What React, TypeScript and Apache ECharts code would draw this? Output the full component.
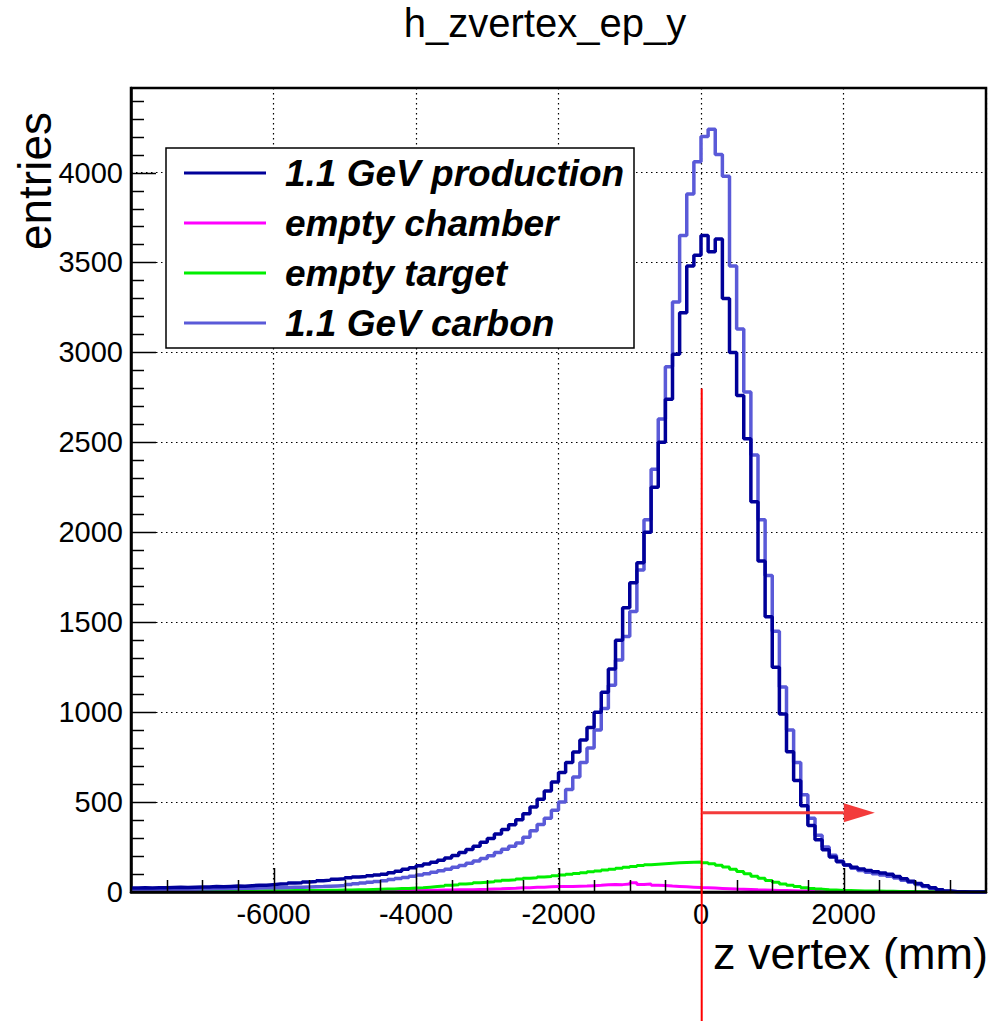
import React, { useEffect, useRef } from "react";
import * as echarts from "echarts";

// ---- axis ranges ----
const X_MIN = -8000;
const X_MAX = 4000;
const X_INTERVAL = 2000;
const X_MINOR_STEP = 500;
const Y_MIN = 0;
const Y_MAX = 4470;
const Y_INTERVAL = 500;
const Y_MINOR_STEP = 100;
const BIN_WIDTH = 100;

// ---- titles ----
const TITLE = "h_zvertex_ep_y";
const X_TITLE = "z vertex (mm)";
const Y_TITLE = "entries";

// ---- legend names ----
const NAMES = ["1.1 GeV production", "empty chamber", "empty target", "1.1 GeV carbon"];
const COLORS = ["#000099", "#ff00ff", "#00ee00", "#5a5ad8"];
const WIDTHS = [3.5, 3, 3, 3.5];

// ---- histogram contents, bins of 100 mm starting at -8000 mm ----
const PRODUCTION = [
  22, 23, 22, 24, 23, 25, 26, 25, 27, 28,
  28, 30, 29, 31, 33, 32, 35, 37, 38, 41,
  44, 46, 50, 52, 56, 59, 63, 66, 71, 74,
  79, 83, 86, 90, 94, 99, 107, 116, 126, 135,
  146, 155, 165, 176, 189, 203, 219, 236, 255, 276,
  298, 322, 347, 374, 402, 435, 472, 515, 562, 612,
  665, 720, 778, 845, 915, 1000, 1110, 1240, 1400, 1580,
  1720, 1830, 2000, 2250, 2500, 2740, 2990, 3220, 3480, 3540,
  3650, 3560, 3630, 3300, 3000, 2760, 2520, 2170, 1840, 1530,
  1250, 990, 780, 620, 480, 370, 290, 235, 195, 168,
  150, 138, 128, 120, 112, 106, 98, 86, 74, 60,
  47, 35, 24, 13, 5, 2, 1, 0, 0, 0,
];

const CHAMBER = [
  3, 3, 3, 3, 3, 3, 3, 3, 3, 3,
  3, 3, 4, 3, 4, 4, 4, 4, 4, 4,
  4, 5, 4, 5, 5, 5, 5, 6, 6, 6,
  6, 6, 7, 7, 7, 7, 8, 8, 9, 9,
  9, 10, 10, 11, 11, 12, 13, 13, 14, 15,
  17, 18, 20, 21, 23, 24, 26, 27, 29, 30,
  31, 31, 32, 33, 35, 37, 40, 42, 41, 44,
  52, 42, 45, 38, 36, 33, 31, 29, 27, 25,
  24, 22, 20, 18, 16, 15, 14, 12, 11, 10,
  9, 8, 7, 6, 6, 5, 5, 4, 4, 4,
  3, 3, 3, 3, 2, 2, 2, 2, 2, 2,
  2, 2, 1, 1, 1, 1, 1, 1, 1, 1,
];

const TARGET = [
  3, 3, 3, 3, 4, 4, 4, 4, 4, 5,
  5, 5, 5, 5, 6, 6, 6, 6, 7, 7,
  7, 7, 8, 8, 8, 9, 9, 10, 10, 11,
  11, 12, 13, 14, 15, 16, 17, 19, 20, 22,
  24, 27, 30, 33, 37, 40, 44, 47, 51, 54,
  57, 61, 65, 68, 72, 76, 79, 83, 86, 90,
  94, 98, 103, 107, 112, 117, 122, 127, 132, 137,
  142, 147, 151, 154, 157, 160, 162, 164, 166, 167,
  163, 157, 149, 139, 127, 114, 101, 88, 76, 64,
  54, 45, 37, 30, 24, 20, 16, 13, 11, 9,
  8, 7, 6, 5, 5, 4, 4, 3, 3, 3,
  2, 2, 2, 2, 1, 1, 1, 1, 1, 1,
];

const CARBON = [
  13, 12, 14, 13, 15, 14, 15, 16, 15, 17,
  17, 18, 18, 19, 20, 21, 21, 22, 23, 24,
  24, 25, 26, 27, 28, 29, 30, 32, 34, 36,
  42, 46, 50, 54, 58, 63, 69, 75, 81, 88,
  95, 102, 110, 118, 127, 137, 148, 160, 172, 186,
  202, 220, 238, 255, 272, 305, 340, 375, 410, 455,
  500, 570, 640, 720, 800, 900, 1020, 1150, 1290, 1420,
  1560, 1790, 2070, 2350, 2630, 2920, 3280, 3650, 3880, 4060,
  4200, 4240, 4100, 3980, 3480, 3130, 2780, 2430, 2070, 1760,
  1450, 1140, 900, 720, 540, 410, 315, 250, 205, 172,
  150, 132, 120, 110, 102, 95, 88, 78, 66, 54,
  42, 31, 21, 11, 4, 2, 1, 0, 0, 0,
];

// ---- red annotation (data units) ----
const CUT_X = 10;
const CUT_LINE_TOP = 2800;
const ARROW_Y = 440;
const ARROW_HEAD_BASE_X = 2004;
const ARROW_TIP_X = 2440;

const FONT = "'Liberation Sans', Arial, Helvetica, sans-serif";

function toHist(values: number[]): number[][] {
  const pts = values.map((v, i) => [X_MIN + i * BIN_WIDTH, v]);
  pts.push([X_MIN + values.length * BIN_WIDTH, values[values.length - 1]]);
  return pts;
}

const plain = (v: number) => String(v);

export default function App() {
  const ref = useRef<HTMLDivElement>(null);

  useEffect(() => {
    document.body.style.margin = "0";
    if (!ref.current) return;
    const chart = echarts.init(ref.current, undefined, { renderer: "svg" });
    const allData = [PRODUCTION, CHAMBER, TARGET, CARBON];
    const zs = [6, 4, 4, 5];

    const option: any = {
      animation: false,
      backgroundColor: "#ffffff",
      grid: {
        left: 131,
        right: 20,
        top: 88,
        bottom: 129,
        show: false,
        containLabel: false,
      },
      xAxis: {
        type: "value",
        min: X_MIN,
        max: X_MAX,
        interval: X_INTERVAL,
        axisLine: { show: true, onZero: false, lineStyle: { color: "#000", width: 2.5 } },
        axisTick: { show: false },
        minorTick: { show: false },
        axisLabel: {
          showMinLabel: false,
          showMaxLabel: false,
          formatter: plain,
          fontSize: 29,
          fontFamily: FONT,
          color: "#000",
          margin: 7,
        },
        splitLine: { show: true, lineStyle: { color: "#000", width: 1.2, type: [1.5, 3.5] } },
      },
      yAxis: {
        type: "value",
        min: Y_MIN,
        max: Y_MAX,
        interval: Y_INTERVAL,
        axisLine: { show: true, onZero: false, lineStyle: { color: "#000", width: 2.5 } },
        axisTick: { show: false },
        minorTick: { show: false },
        axisLabel: {
          showMaxLabel: false,
          formatter: plain,
          fontSize: 29,
          fontFamily: FONT,
          color: "#000",
          margin: 8,
        },
        splitLine: { show: true, lineStyle: { color: "#000", width: 1.2, type: [1.5, 3.5] } },
      },
      legend: {
        orient: "vertical",
        left: 184,
        top: 148,
        padding: 0,
        itemGap: 0,
        itemWidth: 82,
        itemHeight: 3,
        icon: "rect",
        selectedMode: false,
        data: NAMES,
        z: 10,
        textStyle: {
          fontSize: 37,
          fontWeight: "bold",
          fontStyle: "italic",
          fontFamily: FONT,
          color: "#000",
          lineHeight: 50,
          padding: [0, 0, 0, 14],
        },
      },
      series: NAMES.map((name, k) => ({
        name,
        type: "line",
        step: "end",
        data: toHist(allData[k]),
        symbol: "none",
        showSymbol: false,
        silent: true,
        clip: true,
        z: zs[k],
        itemStyle: { color: COLORS[k] },
        lineStyle: { color: COLORS[k], width: WIDTHS[k] },
      })),
    };
    chart.setOption(option);

    const px = (x: number, y: number) => chart.convertToPixel({ gridIndex: 0 }, [x, y]) as number[];
    const p0 = px(CUT_X, CUT_LINE_TOP);
    const a0 = px(CUT_X, ARROW_Y);
    const aBase = px(ARROW_HEAD_BASE_X, ARROW_Y);
    const aTip = px(ARROW_TIP_X, ARROW_Y);
    const bl = px(X_MIN, Y_MIN);
    const tr = px(X_MAX, Y_MAX);
    const H = chart.getHeight();

    // axis ticks drawn inside the frame, ROOT style
    const ticks: any[] = [];
    for (let v = X_MIN + X_MINOR_STEP; v < X_MAX; v += X_MINOR_STEP) {
      const p = px(v, Y_MIN);
      const major = (v - X_MIN) % X_INTERVAL === 0;
      const x = Math.round(p[0]) + 0.5;
      ticks.push({
        type: "line",
        id: "xtick" + v,
        z: 40,
        silent: true,
        shape: { x1: x, y1: bl[1], x2: x, y2: bl[1] - (major ? 24 : 12) },
        style: { stroke: "#000", lineWidth: 1.5 },
      });
    }
    for (let v = Y_MIN + Y_MINOR_STEP; v < Y_MAX; v += Y_MINOR_STEP) {
      const p = px(X_MIN, v);
      const major = (v - Y_MIN) % Y_INTERVAL === 0;
      const y = Math.round(p[1]) + 0.5;
      ticks.push({
        type: "line",
        id: "ytick" + v,
        z: 40,
        silent: true,
        shape: { x1: bl[0], y1: y, x2: bl[0] + (major ? 25 : 13), y2: y },
        style: { stroke: "#000", lineWidth: 1.5 },
      });
    }

    chart.setOption({
      graphic: [
        {
          type: "rect",
          id: "frame",
          z: 50,
          silent: true,
          shape: { x: bl[0], y: tr[1], width: tr[0] - bl[0], height: bl[1] - tr[1] },
          style: { fill: "none", stroke: "#000", lineWidth: 2.5 },
        },
        ...ticks,
        {
          type: "rect",
          id: "legendBox",
          z: 3,
          shape: { x: 166, y: 148, width: 468, height: 200 },
          style: { fill: "#fff", stroke: "#000", lineWidth: 1.5 },
        },
        {
          type: "text",
          id: "title",
          x: 545,
          y: 23,
          style: { text: TITLE, fontSize: 40, fontFamily: FONT, fill: "#000", align: "center", verticalAlign: "middle" },
        },
        {
          type: "text",
          id: "xtitle",
          x: 988,
          y: 953,
          style: { text: X_TITLE, fontSize: 45, fontFamily: FONT, fill: "#000", align: "right", verticalAlign: "middle" },
        },
        {
          type: "text",
          id: "ytitle",
          x: 35,
          y: 112,
          rotation: Math.PI / 2,
          style: { text: Y_TITLE, fontSize: 46, fontFamily: FONT, fill: "#000", align: "right", verticalAlign: "middle" },
        },
        {
          type: "line",
          id: "cutLine",
          z: 100,
          shape: { x1: p0[0], y1: p0[1], x2: p0[0], y2: H },
          style: { stroke: "#ff0000", lineWidth: 2 },
        },
        {
          type: "line",
          id: "arrowLine",
          z: 100,
          shape: { x1: a0[0], y1: a0[1], x2: aBase[0], y2: aBase[1] },
          style: { stroke: "#f33b3b", lineWidth: 3 },
        },
        {
          type: "polygon",
          id: "arrowHead",
          z: 100,
          shape: {
            points: [
              [aBase[0], aBase[1] - 9.5],
              [aTip[0], aTip[1]],
              [aBase[0], aBase[1] + 9.5],
            ],
          },
          style: { fill: "#f33b3b" },
        },
      ],
    });

    return () => chart.dispose();
  }, []);

  return <div ref={ref} style={{ width: 1006, height: 1021 }} />;
}
